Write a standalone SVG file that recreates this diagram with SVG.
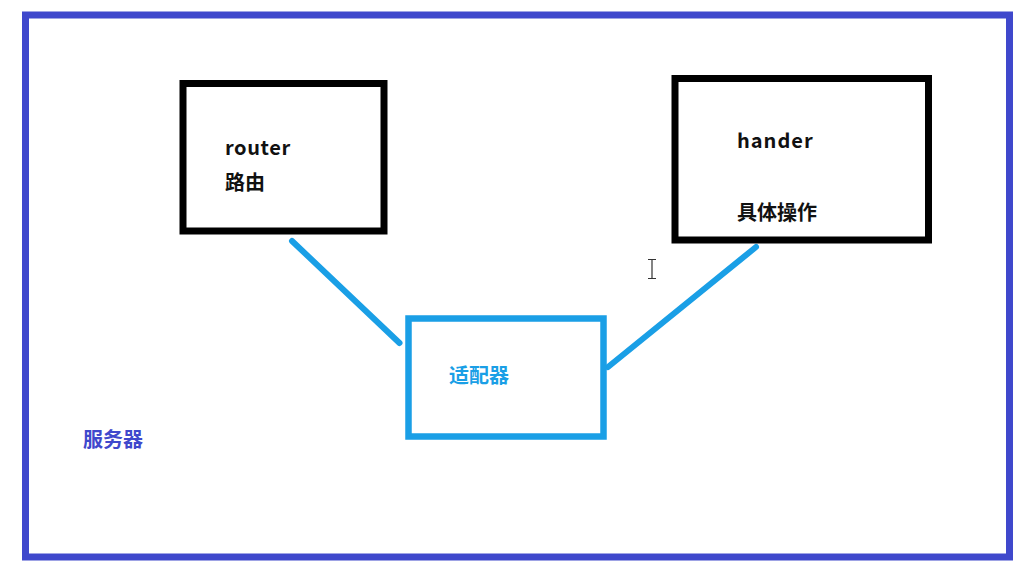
<svg xmlns="http://www.w3.org/2000/svg" width="1022" height="569" viewBox="0 0 1022 569">
  <style>
    .box { fill: #ffffff; stroke: #000000; stroke-width: 7; }
    .adapter { fill: #ffffff; stroke: #1a9fe6; stroke-width: 6.5; }
    .frame { fill: #ffffff; stroke: #3f48cc; stroke-width: 7; }
    .lbl { font-family: "Noto Sans CJK SC", "Noto Sans", "Liberation Sans", sans-serif; font-size: 20px; font-weight: bold; fill: #111111; }
    .conn { stroke: #1a9fe6; stroke-width: 6; stroke-linecap: round; fill: none; }
  </style>
  <rect x="0" y="0" width="1022" height="569" fill="#ffffff"/>
  <g id="server">
    <rect class="frame" x="25.5" y="15" width="984" height="542"/>
    <text class="lbl" x="83" y="447" style="fill:#3f48cc" font-size="20">服务器</text>
  </g>
  <g id="connectors">
    <line class="conn" x1="292" y1="241" x2="399.5" y2="343"/>
    <line class="conn" x1="608" y1="367" x2="756" y2="247"/>
  </g>
  <g id="router">
    <rect class="box" x="183" y="83.5" width="201" height="147.5"/>
    <text class="lbl" x="225" y="155" letter-spacing="0.6">router</text>
    <text class="lbl" x="225" y="190">路由</text>
  </g>
  <g id="hander">
    <rect class="box" x="675" y="78.5" width="253.5" height="161.5"/>
    <text class="lbl" x="737" y="148" letter-spacing="1">hander</text>
    <text class="lbl" x="737" y="220">具体操作</text>
  </g>
  <g id="adapter">
    <rect class="adapter" x="408.5" y="318.5" width="195" height="118"/>
    <text class="lbl" x="449" y="383" style="fill:#1a9fe6">适配器</text>
  </g>
  <g id="cursor">
    <path d="M648 259.5 H656 M652 259.5 V278.5 M648 278.5 H656" stroke="#333333" stroke-width="1.2" fill="none"/>
  </g>
</svg>
